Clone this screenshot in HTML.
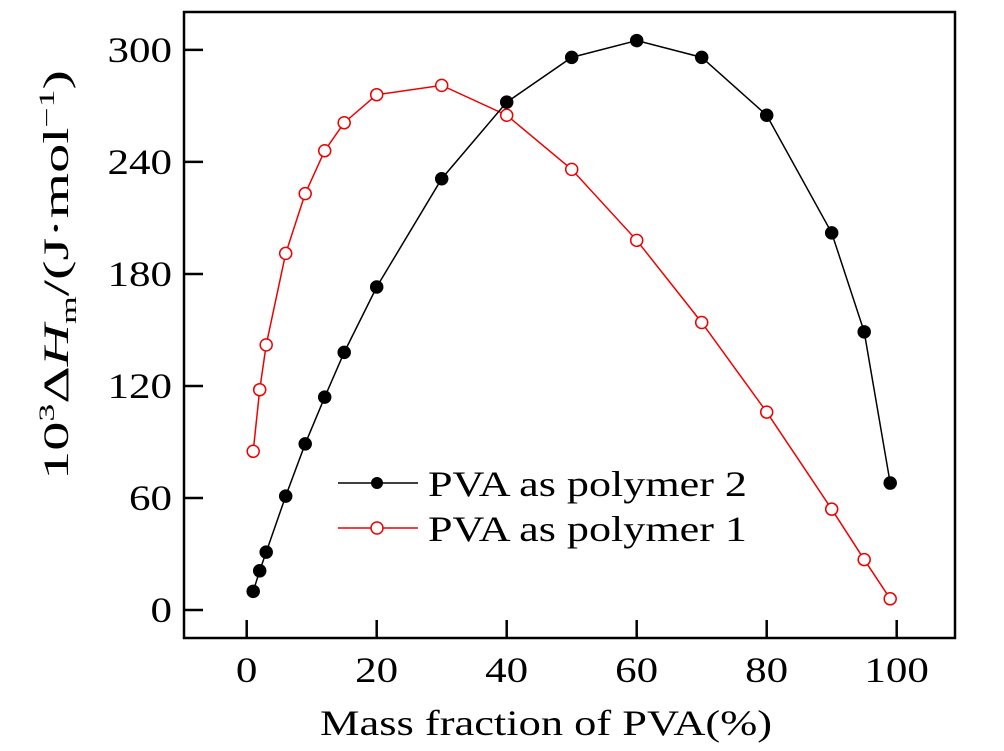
<!DOCTYPE html>
<html><head><meta charset="utf-8"><style>
body{margin:0;background:#fff}
svg{display:block;font-family:"Liberation Serif",serif}
</style></head><body>
<svg width="1004" height="751" id="c">
<rect x="184" y="12" width="771" height="626" fill="none" stroke="#000" stroke-width="2.5"/>
<g id="ticks"></g>
<g id="series"></g>
<text x="320" y="735" font-size="36" textLength="452" lengthAdjust="spacingAndGlyphs">Mass fraction of PVA(%)</text>
<text transform="translate(68,480) rotate(-90)" font-size="36" textLength="410" lengthAdjust="spacingAndGlyphs">10<tspan font-size="22" dy="-14">3</tspan><tspan dy="14">Δ</tspan><tspan font-style="italic">H</tspan><tspan font-size="22" dy="8">m</tspan><tspan dy="-8">/(J·mol</tspan><tspan font-size="22" dy="-14">−1</tspan><tspan dy="14">)</tspan></text>
<g>
<line x1="338" y1="483" x2="418" y2="483" stroke="#000" stroke-width="1.5"/>
<circle cx="377" cy="483" r="6" fill="#000"/>
<text x="428" y="496" font-size="36" textLength="319" lengthAdjust="spacingAndGlyphs">PVA as polymer 2</text>
<line x1="338" y1="528" x2="418" y2="528" stroke="#e00" stroke-width="1.5"/>
<circle cx="377" cy="528" r="6" fill="#fff" stroke="#e00" stroke-width="1.5"/>
<text x="428" y="541" font-size="36" textLength="319" lengthAdjust="spacingAndGlyphs">PVA as polymer 1</text>
</g>
</svg>
<script>
const xTicks=[0,20,40,60,80,100];
const yTicks=[0,60,120,180,240,300];
const xVals=[1,2,3,6,9,12,15,20,30,40,50,60,70,80,90,95,99];
const poly2=[10,21,31,61,89,114,138,173,231,272,296,305,296,265,202,149,68];
const poly1=[85,118,142,191,223,246,261,276,281,265,236,198,154,106,54,27,6];
const NS="http://www.w3.org/2000/svg";
const X=v=>246.7+6.5*v;
const Y=v=>610-1.867*v;
function mk(t,a,p){const e=document.createElementNS(NS,t);for(const k in a)e.setAttribute(k,a[k]);p.appendChild(e);return e;}
const tg=document.getElementById('ticks');
xTicks.forEach(v=>{
 const l=mk('line',{x1:X(v),x2:X(v),y1:638,y2:620,stroke:'#000','stroke-width':2.5},tg);
 
 
 const s=String(v);
 const t=mk('text',{x:X(v),y:682,'font-size':36,'text-anchor':'middle',textLength:21.5*s.length,lengthAdjust:'spacingAndGlyphs'},tg);t.textContent=s;
 
 
});
yTicks.forEach(v=>{
 const l=mk('line',{x1:184,x2:203,y1:Y(v),y2:Y(v),stroke:'#000','stroke-width':2.5},tg);
 
 
 const s=String(v);
 const t=mk('text',{x:172,y:Y(v)+12,'font-size':36,'text-anchor':'end',textLength:21.5*s.length,lengthAdjust:'spacingAndGlyphs'},tg);t.textContent=s;
 
 
});
const sg=document.getElementById('series');
function draw(vals,color,fill,name){
 const pl=mk('polyline',{points:xVals.map((x,i)=>X(x)+','+Y(vals[i])).join(' '),fill:'none',stroke:color,'stroke-width':1.5},sg);
 
 
 xVals.forEach((x,i)=>{
  const c=mk('circle',{cx:X(x),cy:Y(vals[i]),r:6,fill:fill,stroke:color,'stroke-width':1.5},sg);
  
  
 });
}
draw(poly1,'#e00','#fff','polymer1');
draw(poly2,'#000','#000','polymer2');
</script>
</body></html>
